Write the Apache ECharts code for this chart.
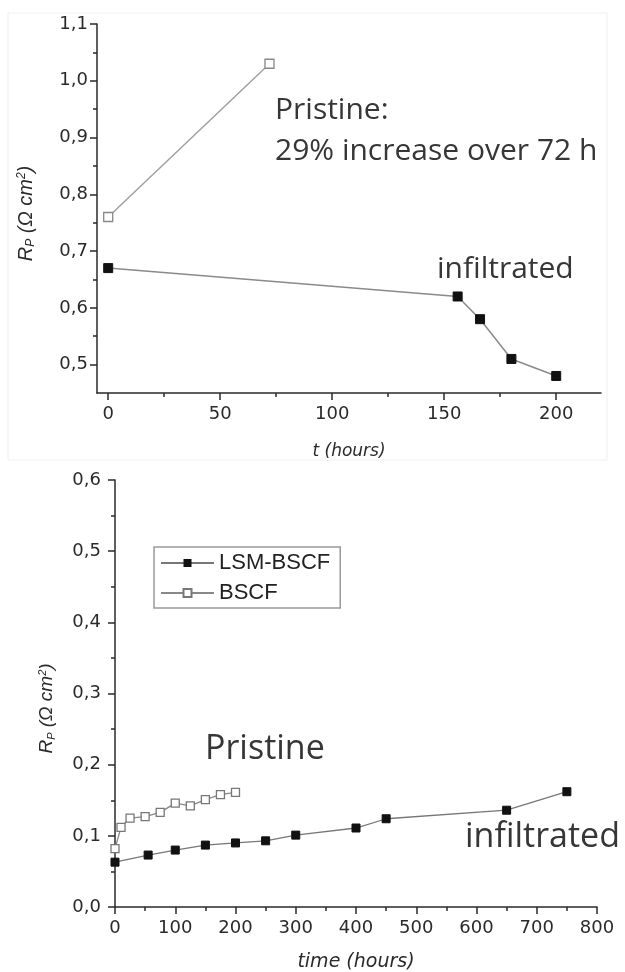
<!DOCTYPE html>
<html>
<head>
<meta charset="utf-8">
<script src="https://cdn.jsdelivr.net/npm/echarts@6/dist/echarts.min.js"></script>
<style>
  html, body { margin: 0; padding: 0; background: #fff; }
  #chart { width: 625px; height: 972px; }
</style>
</head>
<body>
<div id="chart"></div>
<script>
// upper panel: Rp over t (hours)
const topInfiltrated = [[0, 0.67], [156, 0.62], [166, 0.58], [180, 0.51], [200, 0.48]];
const topPristine = [[0, 0.76], [72, 1.03]];
const topXTicks = [0, 50, 100, 150, 200];
const topXMinor = [25, 75, 125, 175];
const topYTicks = [0.5, 0.6, 0.7, 0.8, 0.9, 1.0, 1.1];
const topYMinor = [0.55, 0.65, 0.75, 0.85, 0.95, 1.05];

// lower panel: Rp over time (hours)
const lsmBscf = [[0, 0.063], [55, 0.073], [100, 0.080], [150, 0.087], [200, 0.090], [250, 0.093],
  [300, 0.101], [400, 0.111], [450, 0.124], [650, 0.136], [750, 0.162]];
const bscf = [[0, 0.082], [10, 0.112], [25, 0.125], [50, 0.127], [75, 0.133], [100, 0.146],
  [125, 0.142], [150, 0.151], [175, 0.158], [200, 0.161]];
const legendNames = ['LSM-BSCF', 'BSCF'];

const AXIS = '#2a2a2a';
const TEXT = '#363636';
const labelFont = 'DejaVu Sans';

const comma = v => v.toFixed(1).replace('.', ',');

// y axis title R_P (Ω cm²), size and shift along the axis
function rpName(size, shift) {
  const small = Math.round(size * 0.6);
  const base = { fontSize: size, fontStyle: 'italic', color: AXIS, fontFamily: 'Liberation Sans' };
  return {
    padding: [0, shift, 0, 0],
    rich: {
      r: base,
      sub: Object.assign({}, base, { fontSize: small, verticalAlign: 'bottom', padding: [Math.round(size * 0.45), 0, 0, 0] }),
      t: base,
      sup: Object.assign({}, base, { fontSize: small, verticalAlign: 'top', padding: [0, 0, Math.round(size * 0.45), 0] })
    }
  };
}
const rpText = '{r|R}{sub|P}{t| (\u03A9 cm}{sup|2}{t|)}';

const chart = echarts.init(document.getElementById('chart'));

const option = {
  animation: false,
  backgroundColor: '#fff',
  textStyle: { fontFamily: labelFont },
  grid: [
    { left: 97, top: 24, right: 24, height: 369, outerBoundsMode: 'none' },
    { left: 115, top: 480, right: 28, height: 427, outerBoundsMode: 'none' }
  ],
  legend: {
    data: legendNames,
    orient: 'vertical',
    left: 154,
    top: 547,
    padding: [5, 10, 4, 6],
    itemWidth: 53,
    itemHeight: 10,
    itemGap: 8,
    borderColor: '#999',
    borderWidth: 1.5,
    textStyle: { fontFamily: 'Liberation Sans', fontSize: 22, color: '#222', lineHeight: 22 }
  },
  xAxis: [
    {
      gridIndex: 0, type: 'value', min: -5, max: 220, position: 'bottom',
      name: 't (hours)', nameLocation: 'middle', nameGap: 50,
      nameTextStyle: { fontStyle: 'italic', fontSize: 17, color: AXIS },
      axisLine: { onZero: false, lineStyle: { color: AXIS, width: 1.5 } },
      axisTick: { customValues: topXTicks, length: 7, lineStyle: { color: AXIS, width: 1.5 } },
      axisLabel: { customValues: topXTicks, fontSize: 18, color: AXIS, margin: 12 },
      splitLine: { show: false }
    },
    {
      gridIndex: 0, type: 'value', min: -5, max: 220, position: 'bottom',
      axisLine: { show: false, onZero: false },
      axisTick: { customValues: topXMinor, length: 4, lineStyle: { color: AXIS, width: 1.5 } },
      axisLabel: { show: false },
      splitLine: { show: false }
    },
    {
      gridIndex: 1, type: 'value', min: 0, max: 800, interval: 100, position: 'bottom',
      name: 'time (hours)', nameLocation: 'middle', nameGap: 46,
      nameTextStyle: { fontStyle: 'italic', fontSize: 19, color: AXIS },
      axisLine: { onZero: false, lineStyle: { color: AXIS, width: 1.5 } },
      axisTick: { length: 7, lineStyle: { color: AXIS, width: 1.5 } },
      minorTick: { show: true, splitNumber: 2, length: 4, lineStyle: { color: AXIS, width: 1.5 } },
      axisLabel: { fontSize: 18, color: AXIS, margin: 12 },
      splitLine: { show: false }
    }
  ],
  yAxis: [
    {
      gridIndex: 0, type: 'value', min: 0.45, max: 1.1, position: 'left',
      name: rpText, nameLocation: 'middle', nameGap: 60, nameTextStyle: rpName(20, 10),
      axisLine: { onZero: false, lineStyle: { color: AXIS, width: 1.5 } },
      axisTick: { customValues: topYTicks, length: 7, lineStyle: { color: AXIS, width: 1.5 } },
      axisLabel: { customValues: topYTicks, fontSize: 18, color: AXIS, margin: 9, formatter: comma },
      splitLine: { show: false }
    },
    {
      gridIndex: 0, type: 'value', min: 0.45, max: 1.1, position: 'left',
      axisLine: { show: false, onZero: false },
      axisTick: { customValues: topYMinor, length: 4, lineStyle: { color: AXIS, width: 1.5 } },
      axisLabel: { show: false },
      splitLine: { show: false }
    },
    {
      gridIndex: 1, type: 'value', min: 0, max: 0.6, interval: 0.1, position: 'left',
      name: rpText, nameLocation: 'middle', nameGap: 58, nameTextStyle: rpName(19, 30),
      axisLine: { onZero: false, lineStyle: { color: AXIS, width: 1.5 } },
      axisTick: { length: 7, lineStyle: { color: AXIS, width: 1.5 } },
      minorTick: { show: true, splitNumber: 2, length: 4, lineStyle: { color: AXIS, width: 1.5 } },
      axisLabel: { fontSize: 18, color: AXIS, margin: 14, formatter: comma },
      splitLine: { show: false }
    }
  ],
  series: [
    {
      name: 'infiltrated', type: 'line', xAxisIndex: 0, yAxisIndex: 0, data: topInfiltrated,
      symbol: 'rect', symbolSize: 9,
      lineStyle: { color: '#8a8a8a', width: 1.5 },
      itemStyle: { color: '#111', borderColor: '#111' }
    },
    {
      name: 'pristine', type: 'line', xAxisIndex: 0, yAxisIndex: 0, data: topPristine,
      symbol: 'rect', symbolSize: 9,
      lineStyle: { color: '#a0a0a0', width: 1.5 },
      itemStyle: { color: '#fff', borderColor: '#888', borderWidth: 1.3 }
    },
    {
      name: 'LSM-BSCF', type: 'line', xAxisIndex: 2, yAxisIndex: 2, data: lsmBscf,
      symbol: 'rect', symbolSize: 8,
      lineStyle: { color: '#777', width: 1.3 },
      itemStyle: { color: '#111', borderColor: '#111' }
    },
    {
      name: 'BSCF', type: 'line', xAxisIndex: 2, yAxisIndex: 2, data: bscf,
      symbol: 'rect', symbolSize: 8,
      lineStyle: { color: '#888', width: 1.3 },
      itemStyle: { color: '#fff', borderColor: '#777', borderWidth: 1.3 }
    }
  ],
  graphic: [
    {
      type: 'rect', silent: true, z: -1,
      shape: { x: 8, y: 13, width: 599, height: 447 },
      style: { fill: 'none', stroke: '#efefef', lineWidth: 1 }
    },
    { type: 'text', x: 275, y: 110, style: { text: 'Pristine:', font: '30px "Open Sans"', fill: TEXT, verticalAlign: 'middle' } },
    { type: 'text', x: 275, y: 151, style: { text: '29% increase over 72 h', font: '30px "Open Sans"', fill: TEXT, verticalAlign: 'middle' } },
    { type: 'text', x: 437, y: 269, style: { text: 'infiltrated', font: '30px "Open Sans"', fill: TEXT, verticalAlign: 'middle' } },
    { type: 'text', x: 205, y: 749, style: { text: 'Pristine', font: '34px "Open Sans"', fill: TEXT, verticalAlign: 'middle' } },
    { type: 'text', x: 465, y: 837, style: { text: 'infiltrated', font: '34px "Open Sans"', fill: TEXT, verticalAlign: 'middle' } }
  ]
};

chart.setOption(option);
</script>
</body>
</html>
